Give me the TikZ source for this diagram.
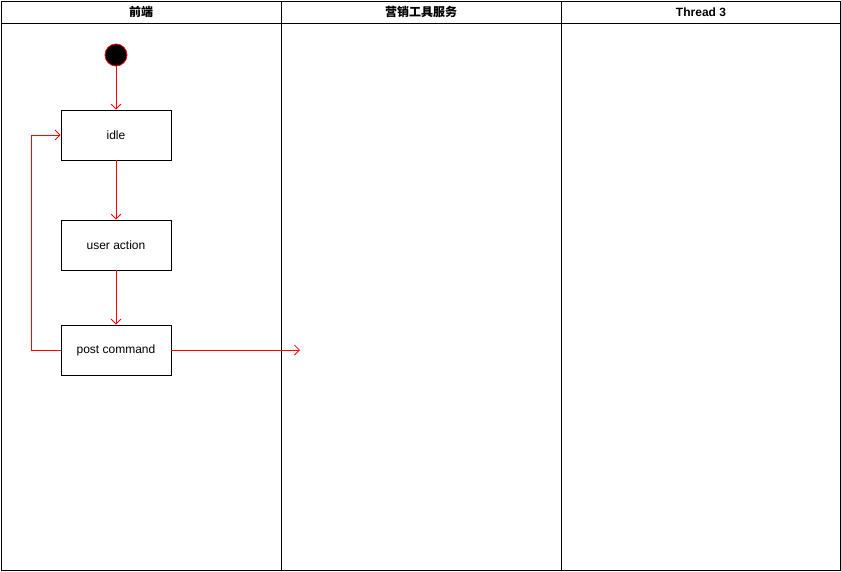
\documentclass[tikz,border=0pt]{standalone}
\usepackage{fontspec}
\setmainfont{Liberation Sans}
\newfontfamily\cjk{Noto Sans CJK SC}
\usetikzlibrary{arrows.meta}
\begin{document}
\begin{tikzpicture}[x=1pt,y=-1pt,
  lane/.style={draw=black,line width=1pt},
  head/.style={font=\bfseries\fontsize{12}{14}\selectfont},
  act/.style={draw=black,line width=0.8pt,minimum width=110pt,minimum height=50pt,inner sep=0pt,font=\fontsize{12}{14}\selectfont},
  startnode/.style={circle,draw=red,fill=black,minimum size=22pt,inner sep=0pt,line width=0.8pt},
  flow/.style={draw=red,line width=0.8pt,-{Straight Barb[length=5pt,width=10pt]}}]
\useasboundingbox (0,0) rectangle (841,571);
% lanes
\draw[lane] (1,1) rectangle (281,570);
\draw[lane] (281,1) rectangle (561,570);
\draw[lane] (561,1) rectangle (840,570);
\draw[lane] (1,23) -- (840,23);
\node[head] (h1) at (141,12) {\cjk\bfseries 前端};
\node[head] (h2) at (421,12) {\cjk\bfseries 营销工具服务};
\node[head] (h3) at (701,12) {Thread 3};
% nodes
\node[startnode] (start) at (116,55) {};
\node[act] (idle) at (116,135) {idle};
\node[act] (user) at (116,245) {user action};
\node[act] (post) at (116,350) {post command};
\coordinate (out) at (300,350);
% connectors
\draw[flow] (start) -- (idle);
\draw[flow] (idle) -- (user);
\draw[flow] (user) -- (post);
\draw[flow] (post.west) -- (31,350) -- (31,135) -- (idle.west);
\draw[flow] (post.east) -- (out);
\end{tikzpicture}
\end{document}
